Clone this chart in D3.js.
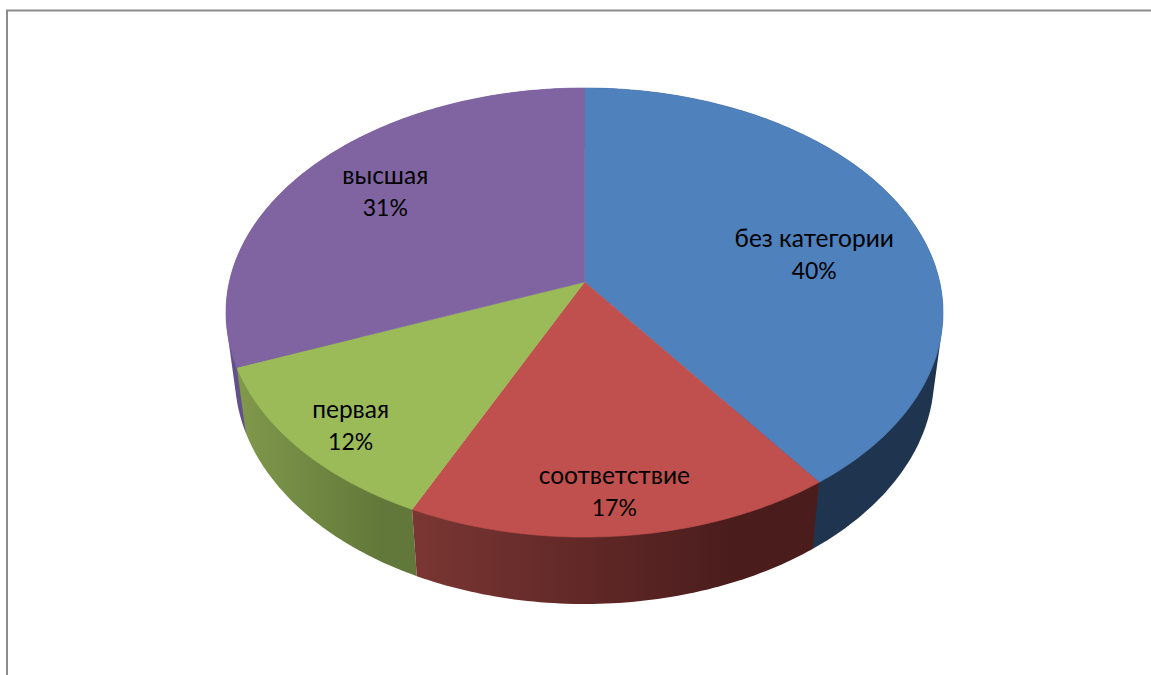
<!DOCTYPE html>
<html>
<head>
<meta charset="utf-8">
<script src="https://cdn.jsdelivr.net/npm/d3@7"></script>
<style>
html,body{margin:0;padding:0;background:#fff;overflow:hidden;}
svg{display:block;}
text{font-family:Lato,"Noto Sans",sans-serif;font-size:24.5px;fill:#000;text-anchor:middle;}
text.pct{font-size:23px;}
</style>
</head>
<body>
<div id="wrap"></div>
<script>
// chart values
var categories = ["без категории","соответствие","первая","высшая"];
var shares = [40,17,12,31];

var faceColors = ["#4f81bd","#c0504d","#9bbb59","#8064a2"];
var wallFrom = ["#1f344e","#7a3633","#80994b","#63508a"]; //left end of the side shading
var wallTo = ["#1f344e","#4a1c1c","#62783a","#63508a"];   //right end

var width = 1151, height = 675;

//camera for the tilted disc: top rim is a perspective circle, z=1 is the bottom rim
var cam = {x:584.5, y:282, a:355.2, b:220.4, k:0.1359, c:65.9, m:-0.025};

function project(theta, r, z){
	var u = Math.sin(theta)*r, v = -Math.cos(theta)*r;
	var w = 1 - cam.k*v - cam.m*z;
	return [cam.x + cam.a*u/w, cam.y + (cam.b*v + cam.c*z)/w];
}

function arcAngles(a0, a1){
	var n = Math.max(2, Math.ceil((a1-a0)*60));
	return d3.range(n+1).map(function(i){return a0 + (a1-a0)*i/n});
}

function midAngle(s){return (s.startAngle+s.endAngle)/2}

var line = d3.line().curve(d3.curveLinearClosed);

var pie = d3.pie().sortValues(null).value(function(d){return d});
var slices = pie(shares);
slices.forEach(function(s,i){s.i = i});

var svg = d3.select("#wrap").append("svg").attr("width",width).attr("height",height);
var defs = svg.append("defs");

//frame, only top and left sides are in the picture
svg.append("path").attr("d","M7,675V10.5H1151").attr("fill","none").attr("stroke","#8c8c8c").attr("stroke-width",2);

//side walls, back ones first. hull gives the straight silhouette at the widest points
var wallOrder = slices.slice().sort(function(a,b){
	return Math.abs(midAngle(b)-Math.PI) - Math.abs(midAngle(a)-Math.PI);
});

wallOrder.forEach(function(s){
	var i = s.i;
	var angles = arcAngles(s.startAngle, s.endAngle);
	var top = angles.map(function(t){return project(t,1,0)});
	var bottom = angles.map(function(t){return project(t,1,1)});
	var pts = d3.polygonHull(top.concat(bottom));
	var ext = d3.extent(pts, function(p){return p[0]});

	var grad = defs.append("linearGradient").attr("id","wall"+i)
		.attr("gradientUnits","userSpaceOnUse")
		.attr("x1",ext[0]).attr("x2",ext[0]+(ext[1]-ext[0])*0.8).attr("y1",0).attr("y2",0);
	grad.append("stop").attr("offset",0).attr("stop-color",wallFrom[i]);
	grad.append("stop").attr("offset",1).attr("stop-color",wallTo[i]);

	svg.append("path").attr("d",line(pts)).attr("fill","url(#wall"+i+")");
});

//top faces
slices.forEach(function(s,i){
	var pts = [project(0,0,0)].concat(arcAngles(s.startAngle, s.endAngle).map(function(t){return project(t,1,0)}));
	svg.append("path").attr("d",line(pts)).attr("fill",faceColors[i])
		.attr("stroke",faceColors[i]).attr("stroke-width",0.6);
});

//labels sit at 0.7 of the radius on the mid angle, then nudged by hand
var nudges = [[0,19],[4,40],[-40,31],[-4,-8]];
slices.forEach(function(s,i){
	var p = project(midAngle(s), 0.7, 0);
	var x = p[0]+nudges[i][0], y = p[1]+nudges[i][1];
	svg.append("text").attr("x",x).attr("y",y-8).text(categories[i]);
	svg.append("text").attr("class","pct").attr("x",x).attr("y",y+24).text(shares[i]+"%");
});
</script>
</body>
</html>
